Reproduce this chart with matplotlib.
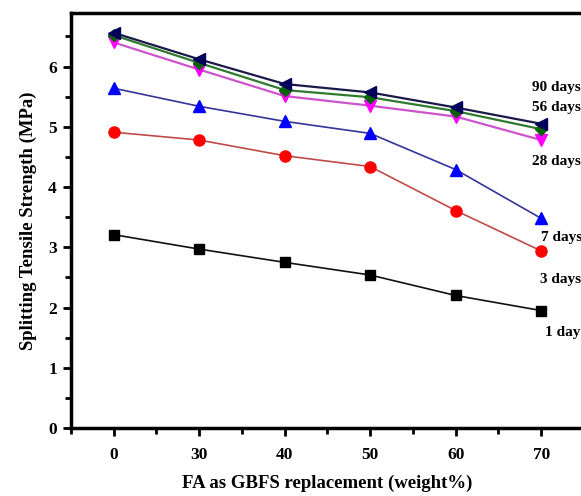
import matplotlib
matplotlib.use('Agg')
import matplotlib.pyplot as plt
from matplotlib.ticker import MultipleLocator

plt.rcParams['font.family'] = 'Liberation Serif'
plt.rcParams['font.weight'] = 'bold'

replacement = ['0', '30', '40', '50', '60', '70']
day_1 = [3.21, 2.97, 2.75, 2.54, 2.20, 1.95]
day_3 = [4.91, 4.78, 4.52, 4.34, 3.61, 2.94]
day_7 = [5.64, 5.34, 5.09, 4.89, 4.29, 3.48]
day_28 = [6.40, 5.95, 5.51, 5.35, 5.17, 4.78]
day_56 = [6.52, 6.06, 5.61, 5.49, 5.26, 4.96]
day_90 = [6.56, 6.12, 5.71, 5.57, 5.32, 5.05]

labels = ['1 day', '3 days', '7 days', '28 days', '56 days', '90 days']
label_y = [1.58, 2.47, 3.17, 4.42, 5.32, 5.66]
label_x = [5.05, 4.99, 5.0, 4.89, 4.89, 4.89]

x = list(range(len(replacement)))

fig = plt.figure(figsize=(5.81, 4.96), dpi=100)
ax = fig.add_axes([0.122, 0.137, 0.883, 0.837])

ax.plot(x, day_1, color='#111111', lw=1.2, marker='s', ms=7, mfc='black', mec='black')
ax.plot(x, day_3, color='#c04a4a', lw=1.2, marker='o', ms=8, mfc='#ff0000', mec='#ff0000')
ax.plot(x, day_7, color='#34349a', lw=1.2, marker='^', ms=8, mfc='#0000ff', mec='#0000ff')
ax.plot(x, day_28, color='#cc55cc', lw=1.6, marker='v', ms=8, mfc='#ff00ff', mec='#ff00ff')
ax.plot(x, day_56, color='#2f7a2f', lw=1.6, marker='D', ms=6, mfc='#006400', mec='#006400')
ax.plot(x, day_90, color='#1a1a4a', lw=1.6, marker='<', ms=9, mfc='#00005a', mec='#00005a')

for lx, ly, t in zip(label_x, label_y, labels):
    ax.text(lx, ly, t, fontsize=11, fontweight='bold', va='center', ha='left')

ax.set_xlim(-0.5, 5.5)
ax.set_ylim(0, 6.89)
ax.set_xticks(x)
ax.set_xticklabels(replacement)
ax.xaxis.set_minor_locator(plt.FixedLocator([i - 0.5 for i in range(7)]))
ax.yaxis.set_major_locator(MultipleLocator(1))
ax.yaxis.set_minor_locator(MultipleLocator(0.5))

for s in ax.spines.values():
    s.set_linewidth(2.5)
ax.tick_params(which='major', direction='out', length=6, width=2, labelsize=12.5, pad=8)
ax.tick_params(which='minor', direction='out', length=4, width=2)
ax.tick_params(axis='y', pad=4)

ax.set_xlabel('FA as GBFS replacement (weight%)', fontsize=13.5, fontweight='bold', labelpad=8)
ax.set_ylabel('Splitting Tensile Strength (MPa)', fontsize=13.5, fontweight='bold', labelpad=8)

fig.savefig('out.png', dpi=100)
